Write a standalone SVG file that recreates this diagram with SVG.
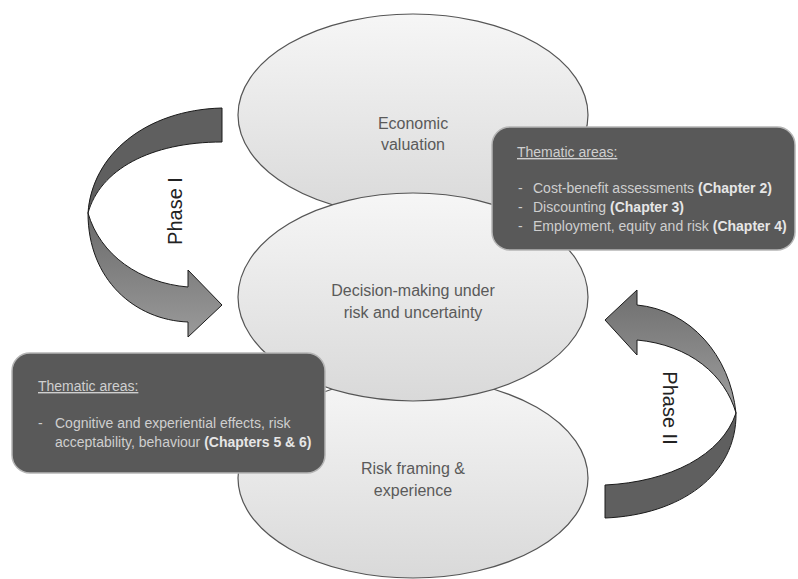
<svg xmlns="http://www.w3.org/2000/svg" width="798" height="579" viewBox="0 0 798 579">
<defs>
<linearGradient id="ell" x1="0" y1="0" x2="0" y2="1">
<stop offset="0" stop-color="#f6f6f6"/>
<stop offset="1" stop-color="#d9d9d9"/>
</linearGradient>
<linearGradient id="arrLight" x1="0" y1="0" x2="0" y2="1">
<stop offset="0" stop-color="#6a6a6a"/>
<stop offset="1" stop-color="#9a9a9a"/>
</linearGradient>
<linearGradient id="arrLight2" x1="0" y1="0" x2="0" y2="1">
<stop offset="0" stop-color="#6e6e6e"/>
<stop offset="1" stop-color="#a0a0a0"/>
</linearGradient>
<style>
.ell{fill:url(#ell);stroke:#555;stroke-width:1.2}
.lbl{font-family:"Liberation Sans",Arial,sans-serif;font-size:16px;fill:#5a5a5a;text-anchor:middle}
.box{fill:#595959;stroke:#b5b5b5;stroke-width:1.5}
.bt{font-family:"Liberation Sans",Arial,sans-serif;font-size:14px;fill:#cfcfcf}
.bt tspan.b{font-weight:bold;fill:#e6e6e6}
.arr{stroke:#1a1a1a;stroke-width:1}
.dark{fill:#5f5f5f}
.phase{font-family:"Liberation Sans",Arial,sans-serif;font-size:20px;fill:#222;text-anchor:middle}
</style>
</defs>

<g id="node-economic">
<ellipse class="ell" cx="413" cy="115" rx="175" ry="101"/>
<text class="lbl" x="413" y="129">Economic</text>
<text class="lbl" x="413" y="150">valuation</text>
</g>

<g id="node-risk-framing">
<ellipse class="ell" cx="413" cy="478" rx="175" ry="100"/>
<text class="lbl" x="413" y="474">Risk framing &amp;</text>
<text class="lbl" x="413" y="496">experience</text>
</g>

<g id="node-decision">
<ellipse class="ell" cx="413" cy="297" rx="175" ry="104"/>
<text class="lbl" x="413" y="296">Decision-making under</text>
<text class="lbl" x="413" y="318">risk and uncertainty</text>
</g>

<g id="box-right">
<rect class="box" x="492" y="127" width="303" height="123" rx="18"/>
<text class="bt" x="517" y="157" text-decoration="underline">Thematic areas:</text>
<text class="bt" x="518" y="193">-</text>
<text class="bt" x="533" y="193">Cost-benefit assessments <tspan class="b">(Chapter 2)</tspan></text>
<text class="bt" x="518" y="212">-</text>
<text class="bt" x="533" y="212">Discounting <tspan class="b">(Chapter 3)</tspan></text>
<text class="bt" x="518" y="231">-</text>
<text class="bt" x="533" y="231">Employment, equity and risk <tspan class="b">(Chapter 4)</tspan></text>
</g>

<g id="box-left">
<rect class="box" x="12" y="353" width="313" height="120" rx="18"/>
<text class="bt" x="38" y="391" text-decoration="underline">Thematic areas:</text>
<text class="bt" x="38" y="428">-</text>
<text class="bt" x="55" y="428">Cognitive and experiential effects, risk</text>
<text class="bt" x="55" y="447">acceptability, behaviour <tspan class="b">(Chapters 5 &amp; 6)</tspan></text>
</g>

<g id="connectors">
<g id="phase-1">
<path class="arr dark" d="M222,108 C145,110 92,155 88,213 C100,170 150,142 222,142 Z"/>
<path class="arr" fill="url(#arrLight)" d="M88,213 C88,280 135,320 188,322 L188,337 L222,305 L188,270 L188,287 C140,283 100,255 88,213 Z"/>
<text class="phase" transform="translate(182,211) rotate(-90)">Phase I</text>
</g>
<g id="phase-2">
<path class="arr" fill="url(#arrLight2)" d="M605,320 L637,290 L637,305 C690,310 730,355 736,413 C725,375 690,345 637,340 L637,355 Z"/>
<path class="arr dark" d="M736,413 C737,475 680,515 605,518 L605,485 C670,482 722,455 736,413 Z"/>
<text class="phase" transform="translate(663,408) rotate(90)">Phase II</text>
</g>
</g>
</svg>
